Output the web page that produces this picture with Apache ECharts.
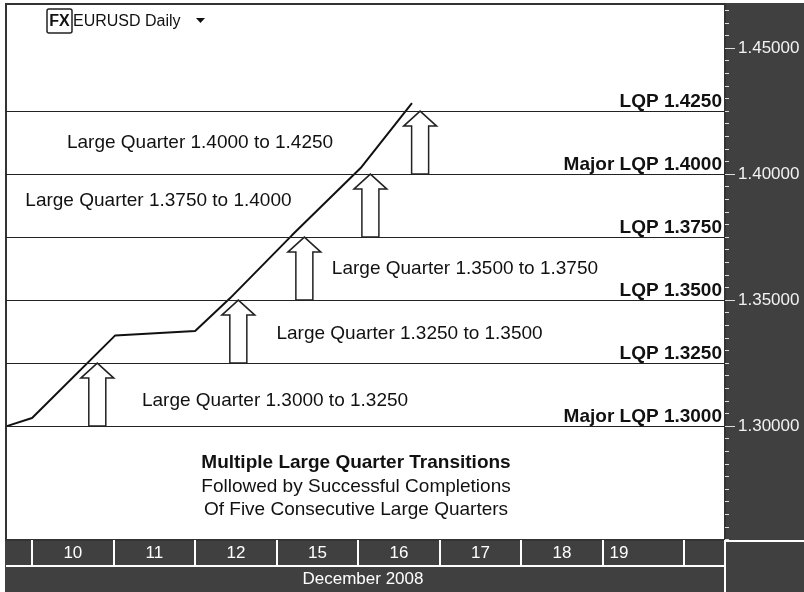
<!DOCTYPE html>
<html>
<head>
<meta charset="utf-8">
<title>EURUSD Daily - Large Quarter Transitions</title>
<script src="https://cdn.jsdelivr.net/npm/echarts@6.0.0/dist/echarts.min.js"></script>
<style>
html, body { margin: 0; padding: 0; background: #fff; }
#chart { width: 804px; height: 592px; }
</style>
</head>
<body>
<div id="chart"></div>
<script>
// x is a day index: 0 = left edge of the Dec 10 cell
var dayLabels = ['10', '11', '12', '15', '16', '17', '18', '19']
var monthLabel = 'December 2008'

// EURUSD path
var lineX = [-0.31, 0, 1.02, 2, 2.43, 3.19, 4.03, 4.66]
var lineY = [1.3000, 1.3032, 1.3360, 1.3377, 1.3508, 1.3758, 1.4024, 1.4282]

var lqpLevels = [1.3000, 1.3250, 1.3500, 1.3750, 1.4000, 1.4250]
var lqpLabels = ['Major LQP 1.3000', 'LQP 1.3250', 'LQP 1.3500', 'LQP 1.3750', 'Major LQP 1.4000', 'LQP 1.4250']

// hollow arrows: day position, from level, to level
var arrowX = [0.80, 2.53, 3.34, 4.15, 4.76]
var arrowFrom = [1.3000, 1.3250, 1.3500, 1.3750, 1.4000]
var arrowTo = [1.3250, 1.3500, 1.3750, 1.4000, 1.4250]

var quarterNames = [
  'Large Quarter 1.3000 to 1.3250',
  'Large Quarter 1.3250 to 1.3500',
  'Large Quarter 1.3500 to 1.3750',
  'Large Quarter 1.3750 to 1.4000',
  'Large Quarter 1.4000 to 1.4250'
]
var quarterX = [2.98, 4.63, 5.31, 1.55, 2.06]
var quarterY = [1.3099, 1.3365, 1.3623, 1.3893, 1.4123]

var priceTicks = [1.30, 1.35, 1.40, 1.45]

var noteLines = [
  'Multiple Large Quarter Transitions',
  'Followed by Successful Completions',
  'Of Five Consecutive Large Quarters'
]

var dark = '#404040'
var font = '"Liberation Sans", Arial, sans-serif'

var minorTicks = []
for (var k = 251; k <= 293; k++) {
  minorTicks.push(+(k * 0.005).toFixed(3))
}

var dayTicks = dayLabels.map(function(d, i) { return i }).concat([dayLabels.length])
var dayLabelPos = dayLabels.map(function(d, i) {
  return i === dayLabels.length - 1 ? i + 0.2 : i + 0.5
})

var chart = echarts.init(document.getElementById('chart'))

var option = {
  backgroundColor: dark,
  animation: false,
  textStyle: { fontFamily: font },
  grid: {
    left: 6,
    right: 79,
    top: 4,
    bottom: 52,
    show: true,
    backgroundColor: '#fff',
    borderColor: '#333',
    borderWidth: 2
  },
  xAxis: {
    type: 'value',
    min: -0.32,
    max: 8.5,
    axisLine: { show: false, onZero: false },
    splitLine: { show: false },
    axisTick: {
      customValues: dayTicks,
      length: 25,
      lineStyle: { color: '#fff', width: 2 }
    },
    axisLabel: {
      customValues: dayLabelPos,
      margin: 5,
      color: '#fff',
      fontSize: 17,
      fontFamily: font,
      formatter: function(v) {
        return dayLabels[Math.floor(v)]
      }
    }
  },
  yAxis: [
    {
      type: 'value',
      position: 'right',
      min: 1.2548,
      max: 1.4675,
      axisLine: { show: false, onZero: false },
      splitLine: { show: false },
      axisTick: {
        customValues: priceTicks,
        length: 10,
        lineStyle: { color: '#ddd', width: 1 }
      },
      axisLabel: {
        customValues: priceTicks,
        margin: 13,
        color: '#f2f2f2',
        fontSize: 17,
        fontFamily: font,
        formatter: function(v) { return v.toFixed(5) }
      }
    },
    {
      type: 'value',
      position: 'right',
      min: 1.2548,
      max: 1.4675,
      axisLine: { show: false, onZero: false },
      splitLine: { show: false },
      axisLabel: { show: false },
      axisTick: {
        customValues: minorTicks,
        length: 4,
        lineStyle: { color: '#ddd', width: 1 }
      }
    }
  ],
  series: [
    {
      type: 'custom',
      z: 2,
      silent: true,
      data: arrowX.map(function(x, i) { return [x, arrowFrom[i], arrowTo[i]] }),
      encode: { x: 0, y: [1, 2] },
      renderItem: function(params, api) {
        var base = api.coord([api.value(0), api.value(1)])
        var tip = api.coord([api.value(0), api.value(2)])
        var cx = base[0]
        var hw = 8.5
        var hh = 16.5
        var neck = tip[1] + 15
        return {
          type: 'polygon',
          shape: {
            points: [
              [cx - hw, base[1]], [cx - hw, neck], [cx - hh, neck], [cx, tip[1]],
              [cx + hh, neck], [cx + hw, neck], [cx + hw, base[1]]
            ]
          },
          style: { fill: '#fff', stroke: '#222', lineWidth: 1.5 }
        }
      }
    },
    {
      type: 'line',
      z: 3,
      silent: true,
      symbol: 'none',
      data: lineX.map(function(x, i) { return [x, lineY[i]] }),
      lineStyle: { color: '#111', width: 2 },
      markLine: {
        silent: true,
        precision: 4,
        symbol: ['none', 'none'],
        lineStyle: { color: '#222', width: 1.2, type: 'solid' },
        label: {
          position: 'insideEndTop',
          distance: [3, 0],
          color: '#111',
          fontSize: 19,
          fontWeight: 'bold',
          fontFamily: font
        },
        data: lqpLevels.map(function(v, i) {
          return { yAxis: v, label: { formatter: lqpLabels[i] } }
        })
      }
    },
    {
      type: 'custom',
      z: 4,
      silent: true,
      data: quarterX.map(function(x, i) { return [x, quarterY[i]] }),
      encode: { x: 0, y: 1 },
      renderItem: function(params, api) {
        var p = api.coord([api.value(0), api.value(1)])
        return {
          type: 'text',
          x: p[0],
          y: p[1],
          style: {
            text: quarterNames[params.dataIndex],
            fill: '#111',
            font: '19px ' + font,
            textAlign: 'center',
            textVerticalAlign: 'middle'
          }
        }
      }
    }
  ],
  graphic: {
    elements: [
      { type: 'rect', shape: { x: 0, y: 0, width: 5, height: 592 }, style: { fill: '#fff' } },
      { type: 'rect', shape: { x: 0, y: 0, width: 804, height: 3 }, style: { fill: '#fff' } },
      { type: 'line', shape: { x1: 6, y1: 566, x2: 725, y2: 566 }, style: { stroke: '#fff', lineWidth: 2 } },
      { type: 'line', shape: { x1: 725, y1: 540, x2: 725, y2: 592 }, style: { stroke: '#fff', lineWidth: 2 } },
      { type: 'line', shape: { x1: 725, y1: 541, x2: 804, y2: 541 }, style: { stroke: '#fff', lineWidth: 2 } },
      {
        type: 'text', x: 363, y: 579,
        style: { text: monthLabel, fill: '#fff', font: '17px ' + font, textAlign: 'center', textVerticalAlign: 'middle' }
      },
      { type: 'rect', shape: { x: 47, y: 9, width: 25, height: 24, r: 2 }, style: { fill: '#fff', stroke: '#222', lineWidth: 1.5 } },
      {
        type: 'text', x: 59.5, y: 22,
        style: { text: 'FX', fill: '#111', font: 'bold 16px ' + font, textAlign: 'center', textVerticalAlign: 'middle' }
      },
      {
        type: 'text', x: 73, y: 22,
        style: { text: 'EURUSD Daily', fill: '#111', font: '16px ' + font, textAlign: 'left', textVerticalAlign: 'middle' }
      },
      { type: 'polygon', shape: { points: [[196, 18], [205, 18], [200.5, 23]] }, style: { fill: '#111' } },
      {
        type: 'text', x: 356, y: 463,
        style: { text: noteLines[0], fill: '#111', font: 'bold 19px ' + font, textAlign: 'center', textVerticalAlign: 'middle' }
      },
      {
        type: 'text', x: 356, y: 487,
        style: { text: noteLines[1], fill: '#111', font: '19px ' + font, textAlign: 'center', textVerticalAlign: 'middle' }
      },
      {
        type: 'text', x: 356, y: 510,
        style: { text: noteLines[2], fill: '#111', font: '19px ' + font, textAlign: 'center', textVerticalAlign: 'middle' }
      }
    ]
  }
}

chart.setOption(option)
window.addEventListener('resize', function() {
  chart.resize()
})
</script>
</body>
</html>
